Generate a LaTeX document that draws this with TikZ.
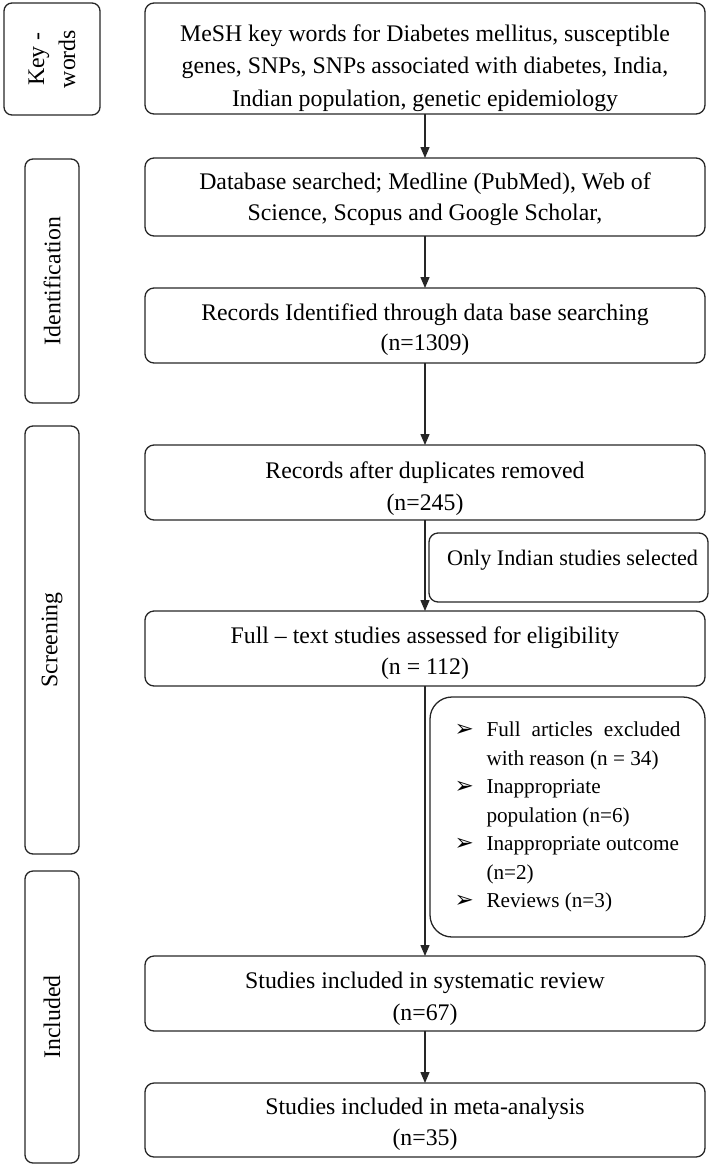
\documentclass[tikz,border=0pt]{standalone}
\usepackage{fontspec}
\setmainfont{Liberation Serif}
\newfontfamily\symfont{DejaVu Sans}
\usetikzlibrary{arrows.meta}
\newcommand\xbul{\makebox[32pt][l]{\fontsize{23}{23}\selectfont\symfont ➢}}
\newcommand\xind{\hspace*{32pt}}
\newcommand\dn[1]{\rule{0pt}{\dimexpr16.3pt+#1pt\relax}}
\begin{document}
\begin{tikzpicture}[x=1pt,y=-1pt,
  every node/.style={inner sep=0pt, outer sep=0pt},
  mbox/.style={draw=black!85, line width=1.3pt, rounded corners=9pt, align=center,
    font=\fontsize{23.8}{30.5}\selectfont, minimum width=560pt},
  side/.style={draw=black!85, line width=1.3pt, rounded corners=8pt, align=center,
    font=\fontsize{23.8}{31}\selectfont, rotate=90},
  arr/.style={draw=black!85, line width=1.3pt, -{Triangle[length=11pt,width=9pt]}}
]
\useasboundingbox (0,0) rectangle (710,1168);

% side labels
\node[side, minimum width=112pt, minimum height=96pt] (kw) at (52,59) {Key -\\words};
\node[side, minimum width=244pt, minimum height=54pt] (idf) at (52,281) {Identification};
\node[side, minimum width=428pt, minimum height=54pt] (scr) at (52,640) {Screening};
\node[side, minimum width=292pt, minimum height=54pt] (inc) at (52,1017) {Included};

% main boxes
\node[mbox, minimum height=111pt, font=\fontsize{23.8}{32.5}\selectfont] (b1) at (425,58.5)
  {\dn{19}MeSH key words for Diabetes mellitus, susceptible\\genes, SNPs, SNPs associated with diabetes, India,\\Indian population, genetic epidemiology};
\node[mbox, minimum height=78pt] (b2) at (425,197)
  {\dn{5}Database searched; Medline (PubMed), Web of\\Science, Scopus and Google Scholar,};
\node[mbox, minimum height=75pt] (b3) at (425,325.5)
  {\dn{9}Records Identified through data base searching\\(n=1309)};
\node[mbox, minimum height=75pt, font=\fontsize{23.8}{32}\selectfont] (b4) at (425,482.5)
  {\dn{12}Records after duplicates removed\\(n=245)};
\node[mbox, minimum height=75pt] (b5) at (425,648.5)
  {\dn{10}Full – text studies assessed for eligibility\\(n = 112)};
\node[mbox, minimum height=75pt, font=\fontsize{23.8}{31.5}\selectfont] (b6) at (425,993.5)
  {\dn{11}Studies included in systematic review\\(n=67)};
\node[mbox, minimum height=74pt] (b7) at (425,1120)
  {\dn{9}Studies included in meta-analysis\\(n=35)};

% side boxes
\node[mbox, minimum width=279pt, minimum height=69pt, font=\fontsize{22.2}{28}\selectfont] (only) at (568.5,567.5)
  {\hspace*{8pt}\smash{\raisebox{2pt}{Only Indian studies selected}}};
\node[draw=black!85, line width=1.3pt, rounded corners=22pt, align=left,
  font=\fontsize{21.2}{28.5}\selectfont, minimum width=275pt, minimum height=240pt] (ex) at (567.5,817)
  {\xbul\makebox[194pt][s]{Full articles excluded}\\
   \xind with reason (n = 34)\\
   \xbul Inappropriate\\
   \xind population (n=6)\\
   \xbul Inappropriate outcome\\
   \xind (n=2)\\
   \xbul Reviews (n=3)};

% arrows
\draw[arr] (b1) -- (b2);
\draw[arr] (b2) -- (b3);
\draw[arr] (b3) -- (b4);
\draw[arr] (b4) -- (b5);
\draw[arr] (b5) -- (b6);
\draw[arr] (b6) -- (b7);
\end{tikzpicture}
\end{document}
